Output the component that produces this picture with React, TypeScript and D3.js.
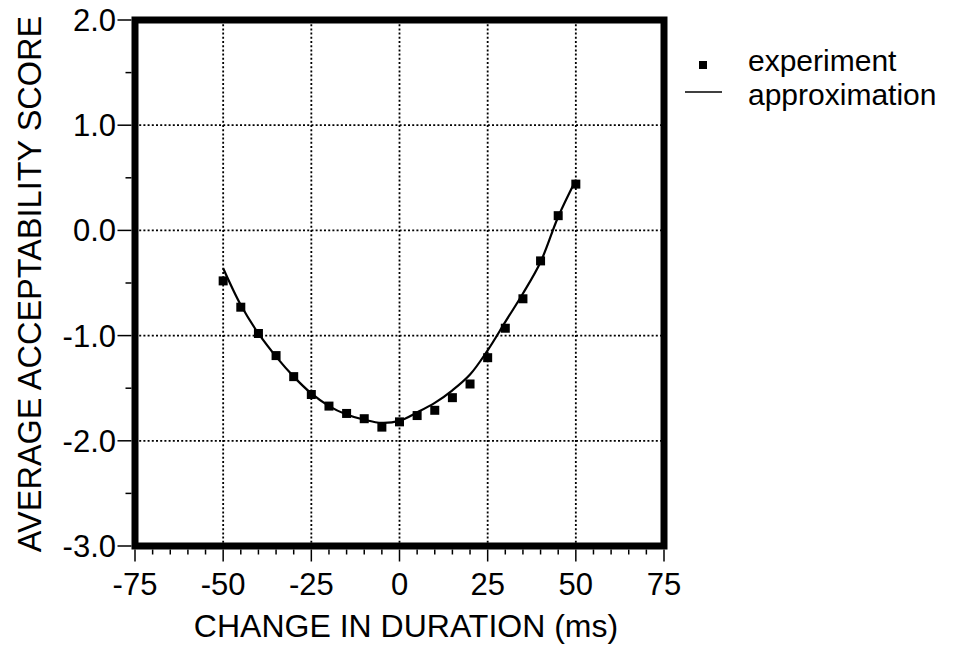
import React, { useEffect, useRef } from "react";
import * as d3 from "d3";

// change in duration (ms)
const durations = [-50, -45, -40, -35, -30, -25, -20, -15, -10, -5, 0, 5, 10, 15, 20, 25, 30, 35, 40, 45, 50];
// measured average acceptability score
const experiment = [-0.48, -0.73, -0.98, -1.19, -1.39, -1.56, -1.67, -1.74, -1.79, -1.87, -1.82, -1.76, -1.71, -1.59, -1.46, -1.21, -0.93, -0.65, -0.29, 0.14, 0.44];
// fitted curve
const approximation = [-0.36, -0.71, -0.98, -1.2, -1.39, -1.55, -1.67, -1.75, -1.8, -1.83, -1.81, -1.73, -1.64, -1.52, -1.37, -1.14, -0.87, -0.6, -0.3, 0.13, 0.48];

const xTicks = [-75, -50, -25, 0, 25, 50, 75];
const yTicks = [2, 1, 0, -1, -2, -3];

const FONT = "'Liberation Sans', Arial, Helvetica, sans-serif";

const App = () => {
  const ref = useRef<SVGSVGElement>(null);

  useEffect(() => {
    const svg = d3.select(ref.current);
    svg.selectAll("*").remove();

    const x = d3.scaleLinear().domain([-75, 75]).range([135, 664]);
    const y = d3.scaleLinear().domain([-3, 2]).range([546, 20]);
    const frame = 7;

    // dotted grid
    const grid = svg.append("g").attr("stroke", "#000").attr("stroke-width", 1.8).attr("stroke-dasharray", "2,2.2");
    grid
      .selectAll("line.gx")
      .data(xTicks.slice(1, -1))
      .enter()
      .append("line")
      .attr("x1", (d) => x(d))
      .attr("x2", (d) => x(d))
      .attr("y1", y(2))
      .attr("y2", y(-3));
    grid
      .selectAll("line.gy")
      .data(yTicks.slice(1, -1))
      .enter()
      .append("line")
      .attr("x1", x(-75))
      .attr("x2", x(75))
      .attr("y1", (d) => y(d))
      .attr("y2", (d) => y(d));

    // minor and major ticks outside the frame
    const ticks = svg.append("g").attr("stroke", "#000").attr("stroke-width", 1.5);
    const bottom = y(-3) + frame / 2;
    d3.range(-75, 76, 5).forEach((v) => {
      const major = v % 25 === 0;
      ticks
        .append("line")
        .attr("x1", x(v))
        .attr("x2", x(v))
        .attr("y1", bottom)
        .attr("y2", bottom + (major ? 12 : 5));
    });
    const left = x(-75) - frame / 2;
    d3.range(-3, 2.01, 0.5).forEach((v) => {
      const major = Math.abs(v - Math.round(v)) < 0.01;
      ticks
        .append("line")
        .attr("x1", left)
        .attr("x2", left - (major ? 14 : 6))
        .attr("y1", y(v))
        .attr("y2", y(v));
    });

    // tick labels
    svg
      .append("g")
      .selectAll("text")
      .data(xTicks)
      .enter()
      .append("text")
      .attr("x", (d) => x(d))
      .attr("y", 595)
      .attr("text-anchor", "middle")
      .attr("font-family", FONT)
      .attr("font-size", 31)
      .text((d) => String(d));
    svg
      .append("g")
      .selectAll("text")
      .data(yTicks)
      .enter()
      .append("text")
      .attr("x", 116)
      .attr("y", (d) => y(d) + 11)
      .attr("text-anchor", "end")
      .attr("font-family", FONT)
      .attr("font-size", 31)
      .text((d) => d.toFixed(1));

    // axis titles
    svg
      .append("text")
      .attr("x", 406)
      .attr("y", 637)
      .attr("text-anchor", "middle")
      .attr("font-family", FONT)
      .attr("font-size", 32)
      .text("CHANGE IN DURATION (ms)");
    svg
      .append("text")
      .attr("transform", "translate(41,284) rotate(-90)")
      .attr("text-anchor", "middle")
      .attr("font-family", FONT)
      .attr("font-size", 32.5)
      .text("AVERAGE ACCEPTABILITY SCORE");

    // approximation line
    const line = d3
      .line<number>()
      .x((d, i) => x(durations[i]))
      .y((d) => y(d))
      .curve(d3.curveCatmullRom.alpha(0.5));
    svg
      .append("path")
      .datum(approximation)
      .attr("d", line)
      .attr("fill", "none")
      .attr("stroke", "#000")
      .attr("stroke-width", 2.2);

    // experiment points
    const s = 9;
    svg
      .append("g")
      .selectAll("rect")
      .data(experiment)
      .enter()
      .append("rect")
      .attr("x", (d, i) => x(durations[i]) - s / 2)
      .attr("y", (d) => y(d) - s / 2)
      .attr("width", s)
      .attr("height", s)
      .attr("fill", "#000");

    // thick frame
    svg
      .append("rect")
      .attr("x", x(-75))
      .attr("y", y(2))
      .attr("width", x(75) - x(-75))
      .attr("height", y(-3) - y(2))
      .attr("fill", "none")
      .attr("stroke", "#000")
      .attr("stroke-width", frame);

    // legend
    const legend = svg.append("g").attr("font-family", FONT).attr("font-size", 30);
    legend.append("rect").attr("x", 699).attr("y", 61).attr("width", 8).attr("height", 8).attr("fill", "#000");
    legend.append("text").attr("x", 748).attr("y", 71).text("experiment");
    legend
      .append("line")
      .attr("x1", 685)
      .attr("x2", 722)
      .attr("y1", 92)
      .attr("y2", 92)
      .attr("stroke", "#000")
      .attr("stroke-width", 1.5);
    legend.append("text").attr("x", 748).attr("y", 105).text("approximation");
  }, []);

  return (
    <svg
      ref={ref}
      width={959}
      height={645}
      style={{ position: "absolute", left: 0, top: 0, background: "#fff" }}
    ></svg>
  );
};

export default App;
